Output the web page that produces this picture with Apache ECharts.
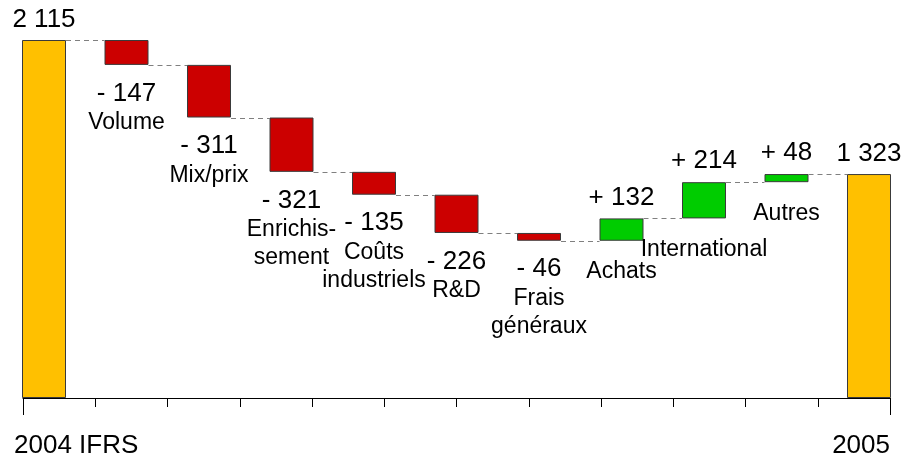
<!DOCTYPE html>
<html>
<head>
<meta charset="utf-8">
<script src="https://cdn.jsdelivr.net/npm/echarts@6/dist/echarts.min.js"></script>
<style>
html,body{margin:0;padding:0;background:#fff;}
#chart{width:904px;height:461px;}
</style>
</head>
<body>
<div id="chart"></div>
<script>
// ---- data ----
var categories = ['2004 IFRS', 'Volume', 'Mix/prix', 'Enrichis-\nsement', 'Coûts\nindustriels', 'R&D', 'Frais\ngénéraux', 'Achats', 'International', 'Autres', '2005'];
var deltas = [2115, -147, -311, -321, -135, -226, -46, 132, 214, 48, 1323];
var isTotal = [true, false, false, false, false, false, false, false, false, false, true];
var valueLabels = ['2 115', '- 147', '- 311', '- 321', '- 135', '- 226', '- 46', '+ 132', '+ 214', '+ 48', '1 323'];
var tickLabels = ['2004 IFRS', '2005'];

// ---- derived ----
var GOLD = '#FFC000', RED = '#CC0000', GREEN = '#00CC00';
var baseData = [], barData = [], connData = [];
var cum = 0;
function nameLines(s) { return s.split('\n').map(function (t) { return '{c|' + t + '}'; }).join('\n'); }
for (var i = 0; i < deltas.length; i++) {
  var d = deltas[i], base, h, color, after;
  if (isTotal[i]) { base = 0; h = d; color = GOLD; after = d; }
  else if (d < 0) { base = cum + d; h = -d; color = RED; after = cum + d; }
  else { base = cum; h = d; color = GREEN; after = cum + d; }
  cum = after;
  var baseItem = { value: base };
  var barItem = { value: h, itemStyle: { color: color } };
  if (isTotal[i]) {
    barItem.label = { show: true, position: 'top', distance: 7, formatter: valueLabels[i], fontSize: 26 };
    baseItem.label = { show: false };
  } else if (d < 0) {
    barItem.label = { show: false };
    baseItem.label = { show: true, position: 'insideTop', distance: 13,
      formatter: '{n|' + valueLabels[i] + '}\n' + nameLines(categories[i]) };
  } else {
    barItem.label = { show: true, position: 'top', distance: 8, formatter: valueLabels[i], fontSize: 26 };
    baseItem.label = { show: true, position: 'insideTop', distance: 17, formatter: nameLines(categories[i]) };
  }
  baseData.push(baseItem);
  barData.push(barItem);
  if (i < deltas.length - 1) connData.push([i, after]);
}

var FONT = '"Liberation Sans", Arial, sans-serif';
var chart = echarts.init(document.getElementById('chart'), null, { renderer: 'canvas' });
chart.setOption({
  animation: false,
  backgroundColor: '#ffffff',
  textStyle: { fontFamily: FONT, color: '#000' },
  grid: [
    { left: 44, right: 35, top: 40, bottom: 63 },
    { left: 23, right: 14, top: 40, bottom: 63 }
  ],
  xAxis: [
    { type: 'category', gridIndex: 0, data: categories, boundaryGap: false, show: false },
    { type: 'value', gridIndex: 1, min: 0, max: 12, interval: 1, position: 'bottom',
      axisLine: { show: true, onZero: false, lineStyle: { color: '#000', width: 1 } },
      axisTick: { show: true, length: 9, lineStyle: { color: '#000', width: 1 } },
      axisLabel: { show: false }, splitLine: { show: false } },
    { type: 'value', gridIndex: 1, min: 0, max: 1, interval: 1, position: 'bottom',
      axisLine: { show: false, onZero: false },
      axisTick: { show: true, length: 17, lineStyle: { color: '#000', width: 1 } },
      axisLabel: { show: true, margin: 35, fontSize: 26, color: '#000', fontFamily: FONT,
        alignMinLabel: 'left', alignMaxLabel: 'right', padding: [0, 0, 0, -9],
        formatter: function (v) { return v === 0 ? tickLabels[0] : tickLabels[1]; } },
      splitLine: { show: false } }
  ],
  yAxis: [
    { type: 'value', gridIndex: 0, min: 0, max: 2115, show: false },
    { type: 'value', gridIndex: 1, min: 0, max: 2115, show: false }
  ],
  series: [
    { type: 'bar', name: 'base', stack: 'w', xAxisIndex: 0, yAxisIndex: 0, barWidth: 44, silent: true, clip: false,
      itemStyle: { color: 'transparent', borderWidth: 0 },
      label: { color: '#000', fontFamily: FONT, textBorderWidth: 0, lineHeight: 28, fontSize: 23,
        rich: { n: { fontSize: 26, lineHeight: 31, color: '#000', fontFamily: FONT },
                c: { fontSize: 23, lineHeight: 28, color: '#000', fontFamily: FONT } } },
      data: baseData },
    { type: 'bar', name: 'delta', stack: 'w', xAxisIndex: 0, yAxisIndex: 0, barWidth: 44, silent: true, clip: false,
      itemStyle: { borderColor: '#3a3a3a', borderWidth: 1 },
      label: { color: '#000', fontFamily: FONT, textBorderWidth: 0 },
      data: barData },
    { type: 'custom', name: 'connectors', xAxisIndex: 0, yAxisIndex: 0, silent: true, z: 1, clip: false,
      encode: { x: 0, y: 1 },
      renderItem: function (params, api) {
        var a = api.coord([api.value(0), api.value(1)]);
        var b = api.coord([api.value(0) + 1, api.value(1)]);
        var y = Math.round(a[1]) + 0.5;
        return { type: 'line', shape: { x1: a[0] + 22, y1: y, x2: b[0] - 22, y2: y },
          style: { stroke: '#808080', lineWidth: 1, lineDash: [5, 4] } };
      },
      data: connData }
  ]
});
</script>
</body>
</html>
